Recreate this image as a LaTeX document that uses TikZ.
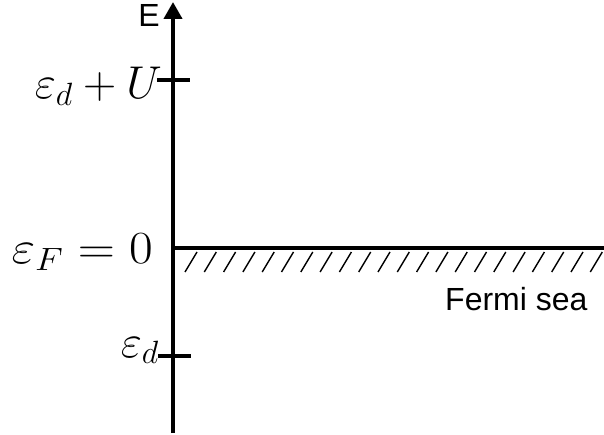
\RequirePackage{fix-cm}
\documentclass[tikz,border=0pt]{standalone}
\usepackage{fontspec}
\newfontfamily\labelsans{Liberation Sans}
\usetikzlibrary{arrows.meta}
\begin{document}
\begin{tikzpicture}[x=1pt,y=-1pt,
  axisline/.style={line width=4pt},
  tickline/.style={line width=3.5pt},
  hatchline/.style={line width=1.4pt},
  mathlabel/.style={inner sep=0pt,font=\fontsize{46}{50}\selectfont},
  textlabel/.style={inner sep=0pt,font=\labelsans\fontsize{32}{35}\selectfont}]
\useasboundingbox (0,0) rectangle (604,435);
\clip (0,0) rectangle (604,435);
% axis
\coordinate (bot) at (173,433);
\coordinate (top) at (173,2);
\draw[axisline,-{Triangle[width=18pt,length=17pt]}] (bot) -- (top);
\node[textlabel,anchor=base east] (E) at (160,27) {E};
% ticks
\coordinate (tUa) at (157,80);
\coordinate (tUb) at (190,80);
\draw[tickline] (tUa) -- (tUb);
\coordinate (tda) at (158,356);
\coordinate (tdb) at (191,356);
\draw[tickline] (tda) -- (tdb);
% Fermi level
\coordinate (fa) at (171,248);
\coordinate (fb) at (606,248);
\draw[tickline] (fa) -- (fb);
% hatching
\foreach \k in {0,...,21} {
  \coordinate (h\k a) at ({185+19.3*\k},272);
  \coordinate (h\k b) at ({197+19.3*\k},252);
  \draw[hatchline] (h\k a) -- (h\k b);
}
% labels
\node[mathlabel,anchor=base east] (lU) at (162,99) {$\varepsilon_d+U$};
\node[mathlabel,anchor=base east] (lF) at (153,264) {\scalebox{1.12}[1]{$\varepsilon_F=0$}};
\node[mathlabel,anchor=base east] (ld) at (159,357) {$\varepsilon_d$};
\node[textlabel,anchor=base west] (sea) at (445,310) {Fermi sea};
\end{tikzpicture}
\end{document}
